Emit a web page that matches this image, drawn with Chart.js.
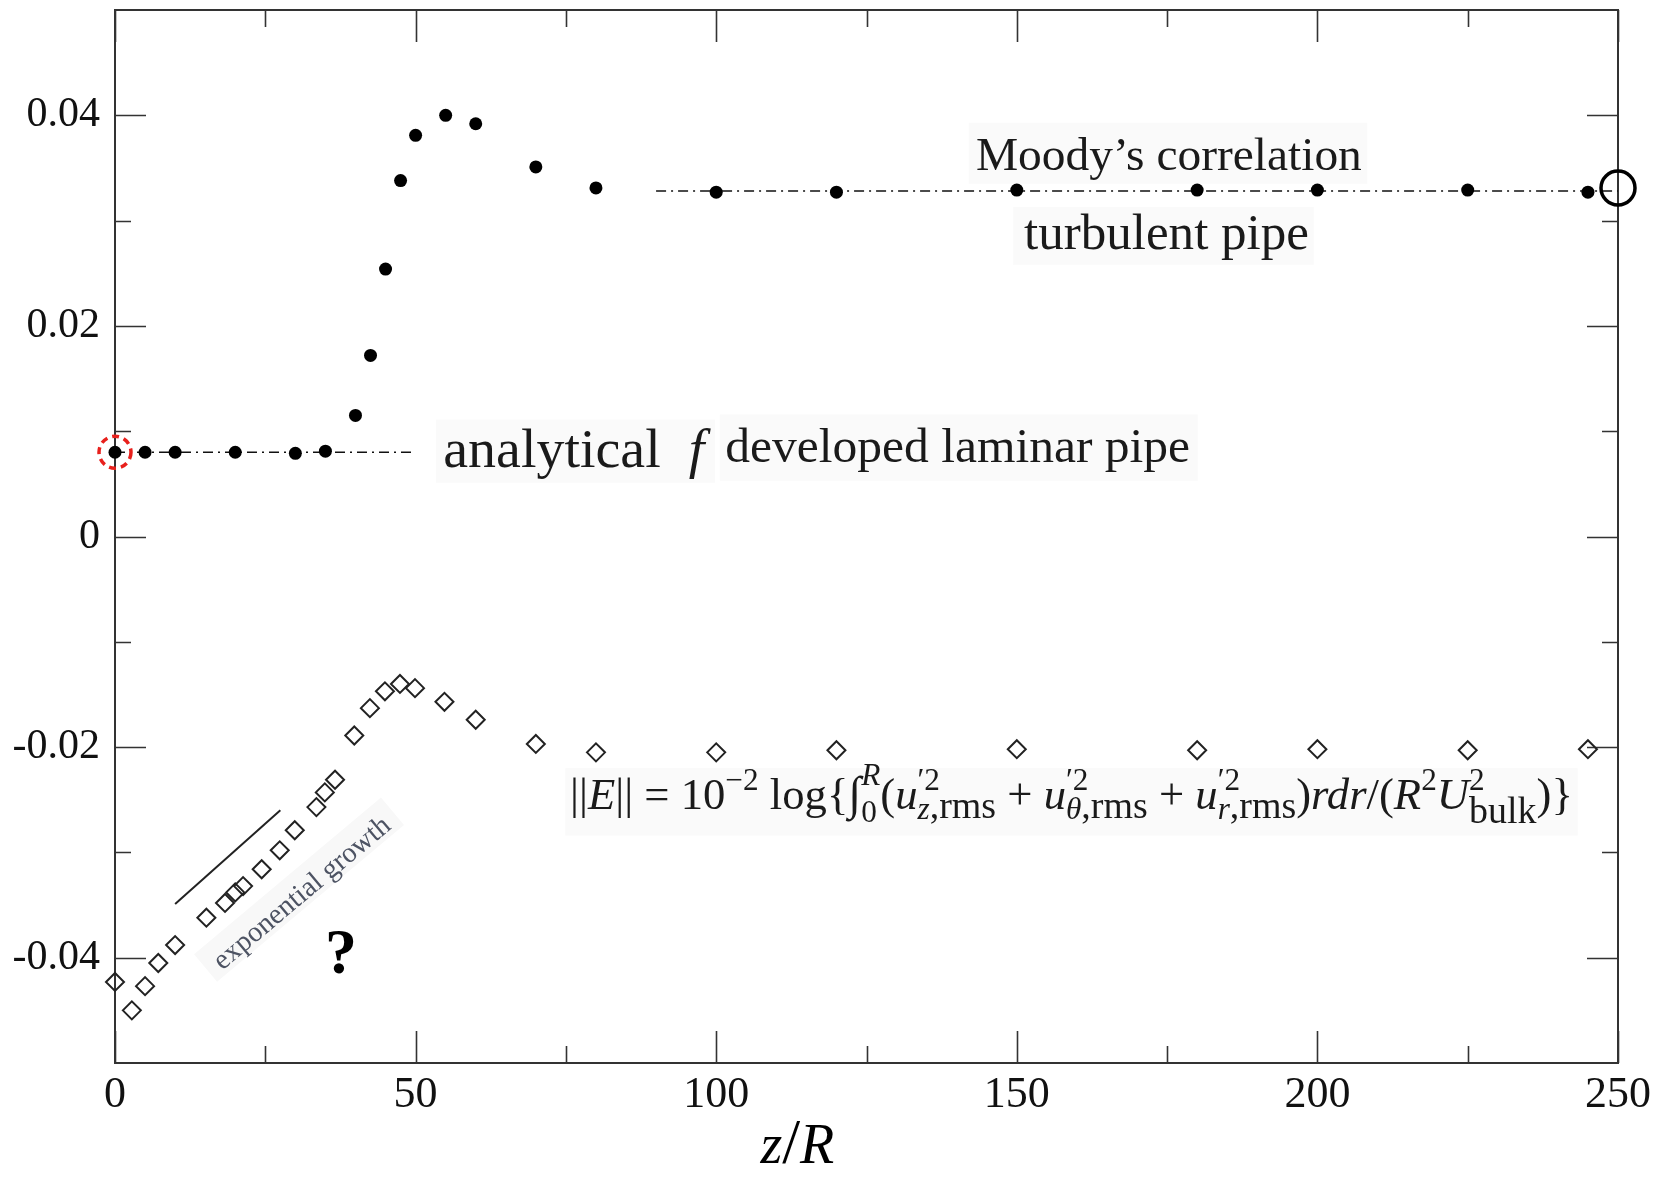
<!DOCTYPE html>
<html>
<head>
<meta charset="utf-8">
<title>Friction factor and disturbance energy along the pipe</title>
<script src="https://cdn.jsdelivr.net/npm/chart.js@4.4.0/dist/chart.umd.min.js"></script>
<style>
  html, body { margin: 0; padding: 0; background: #fff; }
  #wrap { width: 1655px; height: 1181px; }
</style>
</head>
<body>
<div id="wrap"><canvas id="chart" width="1655" height="1181"></canvas></div>
<script>
// friction factor f along the pipe (z/R)
const fZ = [0, 5, 10, 20, 30, 35, 40, 42.5, 45, 47.5, 50, 55, 60, 70, 80, 100, 120, 150, 180, 200, 225, 245];
const fValues = [0.008, 0.008, 0.008, 0.008, 0.0079, 0.0081, 0.0115, 0.0172, 0.0254, 0.0338, 0.0381, 0.04, 0.0392,
  0.0351, 0.0331, 0.0327, 0.0327, 0.0329, 0.0329, 0.0329, 0.0329, 0.0327];

// disturbance energy norm ||E|| along the pipe
const eZ = [0, 2.8, 5, 7.2, 10, 15.2, 18.3, 20, 21.3, 24.4, 27.4, 29.9, 33.5, 34.9, 36.6, 39.8, 42.4, 44.9, 47.4,
  49.9, 54.8, 60, 70, 80, 100, 120, 150, 180, 200, 225, 245];
const eValues = [-0.0423, -0.045, -0.0427, -0.0405, -0.0388, -0.0362, -0.0348, -0.0338, -0.0332, -0.0316, -0.0298,
  -0.0279, -0.0257, -0.0243, -0.0231, -0.0189, -0.0163, -0.0147, -0.014, -0.0144, -0.0157, -0.0174, -0.0197,
  -0.0205, -0.0205, -0.0203, -0.0202, -0.0203, -0.0202, -0.0203, -0.0202];

// reference levels: laminar analytical f and Moody's correlation
const laminarZ = [0, 50];
const laminarF = 0.008;
const moodyZ = [90, 250];
const moodyF = 0.0328;

// slope guide for the exponential growth
const growthZ = [10, 27.5];
const growthE = [-0.0349, -0.026];

// highlighted points: inlet (dashed red) and outlet (open black)
const inletMark = [0, 0.008];
const outletMark = [250, 0.0331];

// axis ticks
const xTicks = [0, 50, 100, 150, 200, 250];
const xMinorTicks = [25, 75, 125, 175, 225];
const yTicks = [-0.04, -0.02, 0, 0.02, 0.04];
const yTickLabels = ["-0.04", "-0.02", "0", "0.02", "0.04"];
const yMinorTicks = [-0.03, -0.01, 0.01, 0.03];

const SERIF = '"Liberation Serif", "Times New Roman", serif';

function setFont(ctx, size, italic, bold) {
  ctx.font = (italic ? "italic " : "") + (bold ? "bold " : "") + size + "px " + SERIF;
}

// text made of runs: {t, it (italic), k (size factor), dy (shift in em), keep/close (stacked sup+sub)}
function runsWidth(ctx, runs, size) {
  let x = 0, stackEnd = 0;
  runs.forEach((r) => {
    setFont(ctx, size * (r.k || 1), r.it);
    const w = ctx.measureText(r.t).width;
    if (r.keep) { stackEnd = x + w; return; }
    x += w;
    if (r.close) x = Math.max(x, stackEnd);
  });
  return x;
}

function drawRuns(ctx, runs, x0, y, size) {
  let x = x0, stackEnd = 0;
  runs.forEach((r) => {
    setFont(ctx, size * (r.k || 1), r.it);
    const w = ctx.measureText(r.t).width;
    ctx.fillText(r.t, x, y + (r.dy || 0) * size);
    if (r.keep) { stackEnd = x + w; return; }
    x += w;
    if (r.close) x = Math.max(x, stackEnd);
  });
}

const SUP = { k: 0.7, dy: -0.42 };
const SUB = { k: 0.7, dy: 0.22 };
const RMS = { t: ",rms", k: 0.85, dy: 0.2, close: true };

const formulaRuns = [
  { t: "||" }, { t: "E", it: true }, { t: "|| = 10" },
  { t: "\u22122", ...SUP },
  { t: " log{" },
  { t: "\u222B", k: 1.05 },
  { t: "R", it: true, k: 0.7, dy: -0.55, keep: true },
  { t: "0", k: 0.7, dy: 0.28, close: true },
  { t: "(" }, { t: "u", it: true },
  { t: "\u20322", ...SUP, keep: true }, { t: "z", it: true, ...SUB }, RMS,
  { t: " + " }, { t: "u", it: true },
  { t: "\u20322", ...SUP, keep: true }, { t: "\u03B8", it: true, ...SUB }, RMS,
  { t: " + " }, { t: "u", it: true },
  { t: "\u20322", ...SUP, keep: true }, { t: "r", it: true, ...SUB }, RMS,
  { t: ")" }, { t: "rdr", it: true }, { t: "/(" }, { t: "R", it: true }, { t: "2", ...SUP },
  { t: "U", it: true }, { t: "2", ...SUP, keep: true }, { t: "bulk", k: 0.85, dy: 0.3, close: true },
  { t: ")}" },
];

// labels placed in data coordinates; width is the printed width in px
const notes = [
  { runs: [{ t: "analytical" }, { t: "\u2002" }, { t: "f", it: true }], z: 54.6, v: 0.0066, width: 261,
    box: [53.4, 99.8, 0.0051, 0.0111] },
  { runs: [{ t: "developed laminar pipe" }], z: 101.5, v: 0.0071, width: 465, box: [100.6, 180.1, 0.0053, 0.0116] },
  { runs: [{ t: "Moody\u2019s correlation" }], z: 143.2, v: 0.0348, width: 386, box: [142, 208.3, 0.0335, 0.0393] },
  { runs: [{ t: "turbulent pipe" }], z: 151.2, v: 0.0273, width: 285, box: [149.4, 199.4, 0.0258, 0.0313] },
  { runs: formulaRuns, z: 75.7, v: -0.0259, width: 1003, box: [74.9, 243.3, -0.0284, -0.022] },
];

const annotations = {
  id: "annotations",
  beforeDatasetsDraw(chart) {
    const { ctx, chartArea: area } = chart;
    const xs = chart.scales.x, ys = chart.scales.y;
    ctx.save();

    // text labels with their faint backing boxes
    ctx.textBaseline = "alphabetic";
    ctx.textAlign = "left";
    notes.forEach((n) => {
      const bx0 = xs.getPixelForValue(n.box[0]), bx1 = xs.getPixelForValue(n.box[1]);
      const by0 = ys.getPixelForValue(n.box[3]), by1 = ys.getPixelForValue(n.box[2]);
      ctx.fillStyle = "#fafafa";
      ctx.fillRect(bx0, by0, bx1 - bx0, by1 - by0);
      const size = 40 * n.width / runsWidth(ctx, n.runs, 40);
      ctx.fillStyle = "#1a1a1a";
      drawRuns(ctx, n.runs, xs.getPixelForValue(n.z), ys.getPixelForValue(n.v), size);
    });

    // rotated "exponential growth" label
    const gx = xs.getPixelForValue(31.3), gy = ys.getPixelForValue(-0.034);
    const growthRuns = [{ t: "exponential growth" }];
    const gSize = 40 * 222 / runsWidth(ctx, growthRuns, 40);
    ctx.save();
    ctx.translate(gx, gy);
    ctx.rotate(-40 * Math.PI / 180);
    ctx.fillStyle = "#f8f8f8";
    ctx.fillRect(-122, -gSize * 0.85, 244, gSize * 1.25);
    ctx.fillStyle = "#4d5363";
    ctx.textAlign = "center";
    setFont(ctx, gSize);
    ctx.fillText("exponential growth", 0, gSize * 0.22);
    ctx.restore();

    // question mark
    ctx.fillStyle = "#000";
    ctx.textAlign = "center";
    ctx.textBaseline = "middle";
    setFont(ctx, 64, false, true);
    ctx.fillText("?", xs.getPixelForValue(37.6), ys.getPixelForValue(-0.0399));

    // axis title z/R
    ctx.textAlign = "left";
    ctx.textBaseline = "alphabetic";
    const titleRuns = [{ t: "z", it: true }, { t: "/", k: 1.15 }, { t: "R", it: true }];
    const tw = runsWidth(ctx, titleRuns, 56);
    drawRuns(ctx, titleRuns, xs.getPixelForValue(113.5) - tw / 2, area.bottom + 100, 56);

    // frame with inward ticks on all four sides
    ctx.strokeStyle = "#333";
    ctx.lineWidth = 2;
    ctx.strokeRect(area.left, area.top, area.right - area.left, area.bottom - area.top);
    ctx.lineWidth = 1.6;
    const tickX = (v, len) => {
      const p = Math.round(xs.getPixelForValue(v)) + 0.5;
      ctx.beginPath();
      ctx.moveTo(p, area.bottom); ctx.lineTo(p, area.bottom - len);
      ctx.moveTo(p, area.top); ctx.lineTo(p, area.top + len);
      ctx.stroke();
    };
    const tickY = (v, len) => {
      const p = Math.round(ys.getPixelForValue(v)) + 0.5;
      ctx.beginPath();
      ctx.moveTo(area.left, p); ctx.lineTo(area.left + len, p);
      ctx.moveTo(area.right, p); ctx.lineTo(area.right - len, p);
      ctx.stroke();
    };
    xTicks.forEach((v) => tickX(v, 32));
    xMinorTicks.forEach((v) => tickX(v, 17));
    yTicks.forEach((v) => tickY(v, 31));
    yMinorTicks.forEach((v) => tickY(v, 16));
    ctx.restore();
  },
  afterDatasetsDraw(chart) {
    // dashed red ring around the inlet point
    const { ctx } = chart;
    const px = chart.scales.x.getPixelForValue(inletMark[0]);
    const py = chart.scales.y.getPixelForValue(inletMark[1]);
    ctx.save();
    ctx.strokeStyle = "#e8201c";
    ctx.lineWidth = 3.5;
    ctx.setLineDash([7, 5]);
    ctx.beginPath();
    ctx.arc(px, py, 16, 0, Math.PI * 2);
    ctx.stroke();
    ctx.restore();
  },
};

const toPoints = (zs, vs) => zs.map((z, i) => ({ x: z, y: vs[i] }));

const refLine = {
  showLine: true,
  borderColor: "#111",
  borderWidth: 1.5,
  borderDash: [10, 5, 2, 5],
  pointRadius: 0,
  clip: false,
};

// the frame is fixed, so drop the half-label padding Chart.js reserves at the axis ends
const noEndPadding = (scale) => {
  scale.paddingTop = 0;
  scale.paddingBottom = 0;
  scale.paddingLeft = 0;
  scale.paddingRight = 0;
};

new Chart(document.getElementById("chart"), {
  type: "scatter",
  data: {
    datasets: [
      {
        label: "outlet",
        data: [{ x: outletMark[0], y: outletMark[1] }],
        pointStyle: "circle",
        pointRadius: 17,
        backgroundColor: "rgba(0,0,0,0)",
        borderColor: "#000",
        borderWidth: 3.5,
        clip: false,
      },
      {
        label: "f",
        data: toPoints(fZ, fValues),
        pointStyle: "circle",
        pointRadius: 6.5,
        backgroundColor: "#000",
        borderWidth: 0,
        clip: false,
      },
      {
        label: "||E||",
        data: toPoints(eZ, eValues),
        pointStyle: "rectRot",
        pointRadius: 9,
        backgroundColor: "rgba(0,0,0,0)",
        borderColor: "#222",
        borderWidth: 2,
        clip: false,
      },
      { label: "laminar", data: laminarZ.map((z) => ({ x: z, y: laminarF })), ...refLine },
      { label: "Moody", data: moodyZ.map((z) => ({ x: z, y: moodyF })), ...refLine },
      {
        label: "growth",
        data: toPoints(growthZ, growthE),
        showLine: true,
        borderColor: "#222",
        borderWidth: 2,
        pointRadius: 0,
      },
    ],
  },
  options: {
    responsive: false,
    animation: false,
    events: [],
    layout: { autoPadding: false, padding: { left: 0, right: 37, top: 10, bottom: 0 } },
    plugins: { legend: { display: false }, tooltip: { enabled: false } },
    scales: {
      x: {
        type: "linear",
        min: 0,
        max: 250,
        afterFit: (scale) => { scale.height = 118; noEndPadding(scale); },
        afterBuildTicks: (scale) => { scale.ticks = xTicks.map((v) => ({ value: v })); },
        grid: { display: false, drawTicks: false },
        border: { display: false },
        ticks: {
          color: "#111",
          padding: 6,
          maxRotation: 0,
          autoSkip: false,
          font: { family: SERIF, size: 44 },
          callback: (v) => String(v),
        },
      },
      y: {
        type: "linear",
        min: -0.05,
        max: 0.05,
        afterFit: (scale) => { scale.width = 115; noEndPadding(scale); },
        afterBuildTicks: (scale) => { scale.ticks = yTicks.map((v) => ({ value: v })); },
        grid: { display: false, drawTicks: false },
        border: { display: false },
        ticks: {
          color: "#111",
          padding: 15,
          autoSkip: false,
          font: { family: SERIF, size: 42 },
          callback: (v) => yTickLabels[yTicks.findIndex((t) => Math.abs(t - v) < 1e-9)],
        },
      },
    },
  },
  plugins: [annotations],
});
</script>
</body>
</html>
